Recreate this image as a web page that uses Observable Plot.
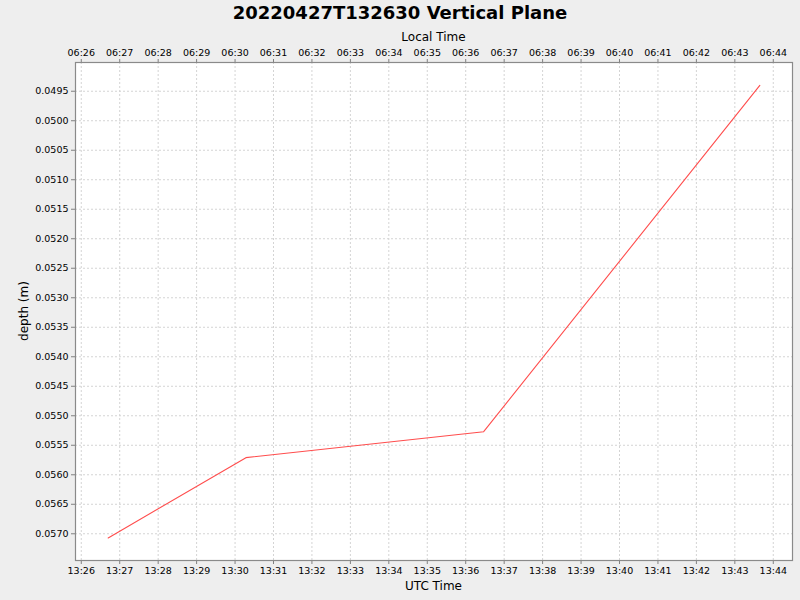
<!DOCTYPE html>
<html>
<head>
<meta charset="utf-8">
<script src="https://cdn.jsdelivr.net/npm/d3@7"></script>
<script src="https://cdn.jsdelivr.net/npm/@observablehq/plot@0.6"></script>
<style>
  html, body { margin: 0; padding: 0; background: #eeeeee; }
  #chart { width: 800px; height: 600px; }
</style>
</head>
<body>
<div id="chart"></div>
<script>
// Data
const utcTimes = ["2022-04-27T13:26:42Z", "2022-04-27T13:30:17Z", "2022-04-27T13:36:28Z", "2022-04-27T13:43:39Z"];
const depths = [0.05707, 0.05571, 0.05527, 0.04940];

// Axis tick labels
const utcTickLabels = ["13:26","13:27","13:28","13:29","13:30","13:31","13:32","13:33","13:34","13:35","13:36","13:37","13:38","13:39","13:40","13:41","13:42","13:43","13:44"];
const depthTicks = [0.0495,0.0500,0.0505,0.0510,0.0515,0.0520,0.0525,0.0530,0.0535,0.0540,0.0545,0.0550,0.0555,0.0560,0.0565,0.0570];
const localOffsetHours = -7;

const titleText = "20220427T132630 Vertical Plane";
const xLabelBottom = "UTC Time";
const xLabelTop = "Local Time";
const yLabel = "depth (m)";

const data = utcTimes.map((t, i) => ({time: new Date(t), depth: depths[i]}));
const xTicks = utcTickLabels.map(s => new Date(`2022-04-27T${s}:00Z`));

const fmt = d3.utcFormat("%H:%M");
const xDomain = [new Date("2022-04-27T13:25:51Z"), new Date("2022-04-27T13:44:30Z")];
const yDomain = [0.049013, 0.057453];

const W = 800, H = 600;
const mL = 75, mR = 8, mT = 62, mB = 40;

const chart = Plot.plot({
  width: W,
  height: H,
  marginLeft: mL,
  marginRight: mR,
  marginTop: mT,
  marginBottom: mB,
  style: {background: "#eeeeee", fontFamily: "DejaVu Sans", fontSize: "9.5px", color: "#000"},
  x: {type: "utc", domain: xDomain},
  y: {domain: yDomain, reverse: true},
  marks: [
    Plot.frame({fill: "white", stroke: null}),
    Plot.gridX(xTicks, {stroke: "#d4d4d4", strokeOpacity: 1, strokeDasharray: "2,2"}),
    Plot.gridY(depthTicks, {stroke: "#d4d4d4", strokeOpacity: 1, strokeDasharray: "2,2"}),
    Plot.axisX(xTicks, {anchor: "bottom", tickFormat: fmt, tickSize: 4, tickPadding: 3, stroke: "#808080", label: null, fill: "#000"}),
    Plot.axisX(xTicks, {anchor: "top", tickFormat: d => fmt(new Date(+d + localOffsetHours * 3600e3)), tickSize: 4, tickPadding: 3, stroke: "#808080", label: null, fill: "#000"}),
    Plot.axisY(depthTicks, {anchor: "left", tickFormat: d3.format(".4f"), tickSize: 4, tickPadding: 3, stroke: "#808080", label: null, fill: "#000"}),
    Plot.line(data, {x: "time", y: "depth", stroke: "#ff4d4d", strokeWidth: 1.1}),
    Plot.frame({stroke: "#8a8a8a", strokeWidth: 1.2})
  ]
});

document.getElementById("chart").appendChild(chart);

const svg = d3.select(chart);
const cx = mL + (W - mL - mR) / 2;
svg.append("text")
  .attr("x", W / 2).attr("y", 19)
  .attr("text-anchor", "middle")
  .attr("font-family", "DejaVu Sans").attr("font-weight", "bold").attr("font-size", 18)
  .attr("fill", "#000")
  .text(titleText);
svg.append("text")
  .attr("x", cx).attr("y", 41)
  .attr("text-anchor", "middle")
  .attr("font-family", "DejaVu Sans").attr("font-size", 12)
  .attr("fill", "#000")
  .text(xLabelTop);
svg.append("text")
  .attr("x", cx).attr("y", 590)
  .attr("text-anchor", "middle")
  .attr("font-family", "DejaVu Sans").attr("font-size", 12)
  .attr("fill", "#000")
  .text(xLabelBottom);
const cy = mT + (H - mT - mB) / 2;
svg.append("text")
  .attr("transform", `translate(28,${cy}) rotate(-90)`)
  .attr("text-anchor", "middle")
  .attr("font-family", "DejaVu Sans").attr("font-size", 12)
  .attr("fill", "#000")
  .text(yLabel);
</script>
</body>
</html>
